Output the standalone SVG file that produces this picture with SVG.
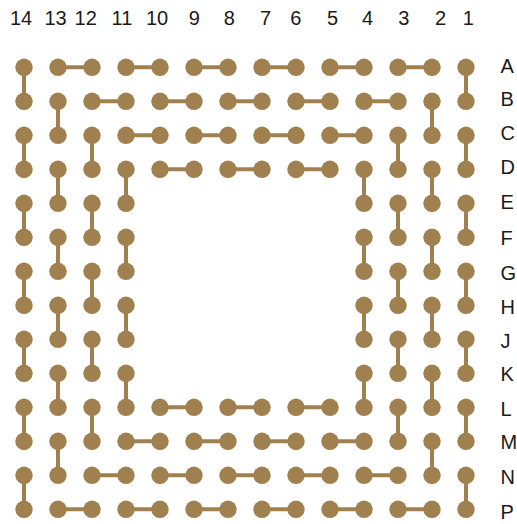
<svg xmlns="http://www.w3.org/2000/svg" width="517" height="524" viewBox="0 0 517 524">
<style>
.lbl{font-family:"Liberation Sans",Arial,sans-serif;font-size:20px;fill:#1a1a1a}
.col{text-anchor:middle}
.dot{fill:#A0804F}
.con line{stroke:#A0804F;stroke-width:4;stroke-linecap:butt}
</style>
<defs><circle id="d" r="8.7" class="dot"/></defs>
<rect width="517" height="524" fill="#fff"/>
<g id="col-labels" class="lbl col">
<text x="21" y="25.3">14</text><text x="55.5" y="25.3">13</text><text x="85.7" y="25.3">12</text><text x="122" y="25.3">11</text><text x="157.1" y="25.3">10</text><text x="194.2" y="25.3">9</text><text x="229.2" y="25.3">8</text><text x="265.5" y="25.3">7</text><text x="295.8" y="25.3">6</text><text x="332.5" y="25.3">5</text><text x="367.5" y="25.3">4</text><text x="403.8" y="25.3">3</text><text x="440.5" y="25.3">2</text><text x="468.2" y="25.3">1</text>
</g>
<g id="row-labels" class="lbl">
<text x="500.5" y="72.7">A</text><text x="500.5" y="106">B</text><text x="500.5" y="139.7">C</text><text x="500.5" y="173.5">D</text><text x="500.5" y="208.7">E</text><text x="500.5" y="244.7">F</text><text x="500.5" y="280.2">G</text><text x="500.5" y="313.9">H</text><text x="500.5" y="347.5">J</text><text x="500.5" y="380.9">K</text><text x="500.5" y="416.2">L</text><text x="500.5" y="449.2">M</text><text x="500.5" y="483.7">N</text><text x="500.5" y="518.7">P</text>
</g>
<g transform="translate(0,0.3)">
<g id="connectors" class="con">
<line x1="58" y1="67" x2="92" y2="67"/><line x1="126" y1="67" x2="160" y2="67"/><line x1="194" y1="67" x2="228" y2="67"/><line x1="262" y1="67" x2="296" y2="67"/><line x1="330" y1="67" x2="364" y2="67"/><line x1="398" y1="67" x2="432" y2="67"/>
<line x1="92" y1="101" x2="126" y2="101"/><line x1="160" y1="101" x2="194" y2="101"/><line x1="228" y1="101" x2="262" y2="101"/><line x1="296" y1="101" x2="330" y2="101"/><line x1="364" y1="101" x2="398" y2="101"/>
<line x1="126" y1="135" x2="160" y2="135"/><line x1="194" y1="135" x2="228" y2="135"/><line x1="262" y1="135" x2="296" y2="135"/><line x1="330" y1="135" x2="364" y2="135"/>
<line x1="160" y1="169" x2="194" y2="169"/><line x1="228" y1="169" x2="262" y2="169"/><line x1="296" y1="169" x2="330" y2="169"/>
<line x1="160" y1="407" x2="194" y2="407"/><line x1="228" y1="407" x2="262" y2="407"/><line x1="296" y1="407" x2="330" y2="407"/>
<line x1="126" y1="441" x2="160" y2="441"/><line x1="194" y1="441" x2="228" y2="441"/><line x1="262" y1="441" x2="296" y2="441"/><line x1="330" y1="441" x2="364" y2="441"/>
<line x1="92" y1="475" x2="126" y2="475"/><line x1="160" y1="475" x2="194" y2="475"/><line x1="228" y1="475" x2="262" y2="475"/><line x1="296" y1="475" x2="330" y2="475"/><line x1="364" y1="475" x2="398" y2="475"/>
<line x1="58" y1="509" x2="92" y2="509"/><line x1="126" y1="509" x2="160" y2="509"/><line x1="194" y1="509" x2="228" y2="509"/><line x1="262" y1="509" x2="296" y2="509"/><line x1="330" y1="509" x2="364" y2="509"/><line x1="398" y1="509" x2="432" y2="509"/>
<line x1="24" y1="67" x2="24" y2="101"/><line x1="24" y1="135" x2="24" y2="169"/><line x1="24" y1="203" x2="24" y2="237"/><line x1="24" y1="271" x2="24" y2="305"/><line x1="24" y1="339" x2="24" y2="373"/><line x1="24" y1="407" x2="24" y2="441"/><line x1="24" y1="475" x2="24" y2="509"/>
<line x1="466" y1="67" x2="466" y2="101"/><line x1="466" y1="135" x2="466" y2="169"/><line x1="466" y1="203" x2="466" y2="237"/><line x1="466" y1="271" x2="466" y2="305"/><line x1="466" y1="339" x2="466" y2="373"/><line x1="466" y1="407" x2="466" y2="441"/><line x1="466" y1="475" x2="466" y2="509"/>
<line x1="58" y1="101" x2="58" y2="135"/><line x1="58" y1="169" x2="58" y2="203"/><line x1="58" y1="237" x2="58" y2="271"/><line x1="58" y1="305" x2="58" y2="339"/><line x1="58" y1="373" x2="58" y2="407"/><line x1="58" y1="441" x2="58" y2="475"/>
<line x1="432" y1="101" x2="432" y2="135"/><line x1="432" y1="169" x2="432" y2="203"/><line x1="432" y1="237" x2="432" y2="271"/><line x1="432" y1="305" x2="432" y2="339"/><line x1="432" y1="373" x2="432" y2="407"/><line x1="432" y1="441" x2="432" y2="475"/>
<line x1="92" y1="135" x2="92" y2="169"/><line x1="92" y1="203" x2="92" y2="237"/><line x1="92" y1="271" x2="92" y2="305"/><line x1="92" y1="339" x2="92" y2="373"/><line x1="92" y1="407" x2="92" y2="441"/>
<line x1="398" y1="135" x2="398" y2="169"/><line x1="398" y1="203" x2="398" y2="237"/><line x1="398" y1="271" x2="398" y2="305"/><line x1="398" y1="339" x2="398" y2="373"/><line x1="398" y1="407" x2="398" y2="441"/>
<line x1="126" y1="169" x2="126" y2="203"/><line x1="126" y1="237" x2="126" y2="271"/><line x1="126" y1="305" x2="126" y2="339"/><line x1="126" y1="373" x2="126" y2="407"/>
<line x1="364" y1="169" x2="364" y2="203"/><line x1="364" y1="237" x2="364" y2="271"/><line x1="364" y1="305" x2="364" y2="339"/><line x1="364" y1="373" x2="364" y2="407"/>
</g>
<g id="nodes">
<g id="A14"><use href="#d" x="24" y="67"/></g><g id="A13"><use href="#d" x="58" y="67"/></g><g id="A12"><use href="#d" x="92" y="67"/></g><g id="A11"><use href="#d" x="126" y="67"/></g><g id="A10"><use href="#d" x="160" y="67"/></g><g id="A9"><use href="#d" x="194" y="67"/></g><g id="A8"><use href="#d" x="228" y="67"/></g><g id="A7"><use href="#d" x="262" y="67"/></g><g id="A6"><use href="#d" x="296" y="67"/></g><g id="A5"><use href="#d" x="330" y="67"/></g><g id="A4"><use href="#d" x="364" y="67"/></g><g id="A3"><use href="#d" x="398" y="67"/></g><g id="A2"><use href="#d" x="432" y="67"/></g><g id="A1"><use href="#d" x="466" y="67"/></g>
<g id="B14"><use href="#d" x="24" y="101"/></g><g id="B13"><use href="#d" x="58" y="101"/></g><g id="B12"><use href="#d" x="92" y="101"/></g><g id="B11"><use href="#d" x="126" y="101"/></g><g id="B10"><use href="#d" x="160" y="101"/></g><g id="B9"><use href="#d" x="194" y="101"/></g><g id="B8"><use href="#d" x="228" y="101"/></g><g id="B7"><use href="#d" x="262" y="101"/></g><g id="B6"><use href="#d" x="296" y="101"/></g><g id="B5"><use href="#d" x="330" y="101"/></g><g id="B4"><use href="#d" x="364" y="101"/></g><g id="B3"><use href="#d" x="398" y="101"/></g><g id="B2"><use href="#d" x="432" y="101"/></g><g id="B1"><use href="#d" x="466" y="101"/></g>
<g id="C14"><use href="#d" x="24" y="135"/></g><g id="C13"><use href="#d" x="58" y="135"/></g><g id="C12"><use href="#d" x="92" y="135"/></g><g id="C11"><use href="#d" x="126" y="135"/></g><g id="C10"><use href="#d" x="160" y="135"/></g><g id="C9"><use href="#d" x="194" y="135"/></g><g id="C8"><use href="#d" x="228" y="135"/></g><g id="C7"><use href="#d" x="262" y="135"/></g><g id="C6"><use href="#d" x="296" y="135"/></g><g id="C5"><use href="#d" x="330" y="135"/></g><g id="C4"><use href="#d" x="364" y="135"/></g><g id="C3"><use href="#d" x="398" y="135"/></g><g id="C2"><use href="#d" x="432" y="135"/></g><g id="C1"><use href="#d" x="466" y="135"/></g>
<g id="D14"><use href="#d" x="24" y="169"/></g><g id="D13"><use href="#d" x="58" y="169"/></g><g id="D12"><use href="#d" x="92" y="169"/></g><g id="D11"><use href="#d" x="126" y="169"/></g><g id="D10"><use href="#d" x="160" y="169"/></g><g id="D9"><use href="#d" x="194" y="169"/></g><g id="D8"><use href="#d" x="228" y="169"/></g><g id="D7"><use href="#d" x="262" y="169"/></g><g id="D6"><use href="#d" x="296" y="169"/></g><g id="D5"><use href="#d" x="330" y="169"/></g><g id="D4"><use href="#d" x="364" y="169"/></g><g id="D3"><use href="#d" x="398" y="169"/></g><g id="D2"><use href="#d" x="432" y="169"/></g><g id="D1"><use href="#d" x="466" y="169"/></g>
<g id="E14"><use href="#d" x="24" y="203"/></g><g id="E13"><use href="#d" x="58" y="203"/></g><g id="E12"><use href="#d" x="92" y="203"/></g><g id="E11"><use href="#d" x="126" y="203"/></g><g id="E4"><use href="#d" x="364" y="203"/></g><g id="E3"><use href="#d" x="398" y="203"/></g><g id="E2"><use href="#d" x="432" y="203"/></g><g id="E1"><use href="#d" x="466" y="203"/></g>
<g id="F14"><use href="#d" x="24" y="237"/></g><g id="F13"><use href="#d" x="58" y="237"/></g><g id="F12"><use href="#d" x="92" y="237"/></g><g id="F11"><use href="#d" x="126" y="237"/></g><g id="F4"><use href="#d" x="364" y="237"/></g><g id="F3"><use href="#d" x="398" y="237"/></g><g id="F2"><use href="#d" x="432" y="237"/></g><g id="F1"><use href="#d" x="466" y="237"/></g>
<g id="G14"><use href="#d" x="24" y="271"/></g><g id="G13"><use href="#d" x="58" y="271"/></g><g id="G12"><use href="#d" x="92" y="271"/></g><g id="G11"><use href="#d" x="126" y="271"/></g><g id="G4"><use href="#d" x="364" y="271"/></g><g id="G3"><use href="#d" x="398" y="271"/></g><g id="G2"><use href="#d" x="432" y="271"/></g><g id="G1"><use href="#d" x="466" y="271"/></g>
<g id="H14"><use href="#d" x="24" y="305"/></g><g id="H13"><use href="#d" x="58" y="305"/></g><g id="H12"><use href="#d" x="92" y="305"/></g><g id="H11"><use href="#d" x="126" y="305"/></g><g id="H4"><use href="#d" x="364" y="305"/></g><g id="H3"><use href="#d" x="398" y="305"/></g><g id="H2"><use href="#d" x="432" y="305"/></g><g id="H1"><use href="#d" x="466" y="305"/></g>
<g id="J14"><use href="#d" x="24" y="339"/></g><g id="J13"><use href="#d" x="58" y="339"/></g><g id="J12"><use href="#d" x="92" y="339"/></g><g id="J11"><use href="#d" x="126" y="339"/></g><g id="J4"><use href="#d" x="364" y="339"/></g><g id="J3"><use href="#d" x="398" y="339"/></g><g id="J2"><use href="#d" x="432" y="339"/></g><g id="J1"><use href="#d" x="466" y="339"/></g>
<g id="K14"><use href="#d" x="24" y="373"/></g><g id="K13"><use href="#d" x="58" y="373"/></g><g id="K12"><use href="#d" x="92" y="373"/></g><g id="K11"><use href="#d" x="126" y="373"/></g><g id="K4"><use href="#d" x="364" y="373"/></g><g id="K3"><use href="#d" x="398" y="373"/></g><g id="K2"><use href="#d" x="432" y="373"/></g><g id="K1"><use href="#d" x="466" y="373"/></g>
<g id="L14"><use href="#d" x="24" y="407"/></g><g id="L13"><use href="#d" x="58" y="407"/></g><g id="L12"><use href="#d" x="92" y="407"/></g><g id="L11"><use href="#d" x="126" y="407"/></g><g id="L10"><use href="#d" x="160" y="407"/></g><g id="L9"><use href="#d" x="194" y="407"/></g><g id="L8"><use href="#d" x="228" y="407"/></g><g id="L7"><use href="#d" x="262" y="407"/></g><g id="L6"><use href="#d" x="296" y="407"/></g><g id="L5"><use href="#d" x="330" y="407"/></g><g id="L4"><use href="#d" x="364" y="407"/></g><g id="L3"><use href="#d" x="398" y="407"/></g><g id="L2"><use href="#d" x="432" y="407"/></g><g id="L1"><use href="#d" x="466" y="407"/></g>
<g id="M14"><use href="#d" x="24" y="441"/></g><g id="M13"><use href="#d" x="58" y="441"/></g><g id="M12"><use href="#d" x="92" y="441"/></g><g id="M11"><use href="#d" x="126" y="441"/></g><g id="M10"><use href="#d" x="160" y="441"/></g><g id="M9"><use href="#d" x="194" y="441"/></g><g id="M8"><use href="#d" x="228" y="441"/></g><g id="M7"><use href="#d" x="262" y="441"/></g><g id="M6"><use href="#d" x="296" y="441"/></g><g id="M5"><use href="#d" x="330" y="441"/></g><g id="M4"><use href="#d" x="364" y="441"/></g><g id="M3"><use href="#d" x="398" y="441"/></g><g id="M2"><use href="#d" x="432" y="441"/></g><g id="M1"><use href="#d" x="466" y="441"/></g>
<g id="N14"><use href="#d" x="24" y="475"/></g><g id="N13"><use href="#d" x="58" y="475"/></g><g id="N12"><use href="#d" x="92" y="475"/></g><g id="N11"><use href="#d" x="126" y="475"/></g><g id="N10"><use href="#d" x="160" y="475"/></g><g id="N9"><use href="#d" x="194" y="475"/></g><g id="N8"><use href="#d" x="228" y="475"/></g><g id="N7"><use href="#d" x="262" y="475"/></g><g id="N6"><use href="#d" x="296" y="475"/></g><g id="N5"><use href="#d" x="330" y="475"/></g><g id="N4"><use href="#d" x="364" y="475"/></g><g id="N3"><use href="#d" x="398" y="475"/></g><g id="N2"><use href="#d" x="432" y="475"/></g><g id="N1"><use href="#d" x="466" y="475"/></g>
<g id="P14"><use href="#d" x="24" y="509"/></g><g id="P13"><use href="#d" x="58" y="509"/></g><g id="P12"><use href="#d" x="92" y="509"/></g><g id="P11"><use href="#d" x="126" y="509"/></g><g id="P10"><use href="#d" x="160" y="509"/></g><g id="P9"><use href="#d" x="194" y="509"/></g><g id="P8"><use href="#d" x="228" y="509"/></g><g id="P7"><use href="#d" x="262" y="509"/></g><g id="P6"><use href="#d" x="296" y="509"/></g><g id="P5"><use href="#d" x="330" y="509"/></g><g id="P4"><use href="#d" x="364" y="509"/></g><g id="P3"><use href="#d" x="398" y="509"/></g><g id="P2"><use href="#d" x="432" y="509"/></g><g id="P1"><use href="#d" x="466" y="509"/></g>
</g>
</g>
</svg>
